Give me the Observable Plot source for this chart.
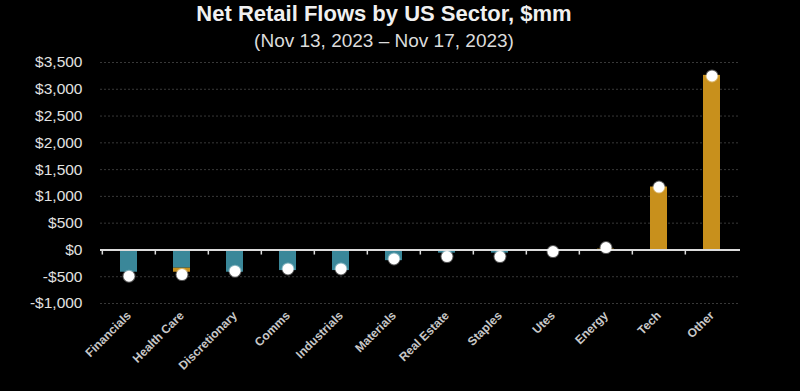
<!DOCTYPE html>
<html>
<head>
<meta charset="utf-8">
<script src="https://cdn.jsdelivr.net/npm/d3@7"></script>
<script src="https://cdn.jsdelivr.net/npm/@observablehq/plot@0.6"></script>
<style>
  html, body { margin: 0; padding: 0; background: #000; }
  #wrap { width: 800px; height: 391px; background: #000; overflow: hidden; }
  #head { width: 768px; height: 40px; text-align: center; color: #eee; position: relative; z-index: 2; }
  #title { font-family: "Liberation Sans", Arial, sans-serif; font-weight: bold; font-size: 22px; line-height: 24px; padding-top: 2px; color: #f0f0f0; }
  #subtitle { font-family: "Liberation Sans", Arial, sans-serif; font-size: 19px; line-height: 22px; margin-top: 4px; color: #dcdcdc; }
  #chart svg { display: block; }
</style>
</head>
<body>
<div id="wrap">
  <div id="head">
    <div id="title">Net Retail Flows by US Sector, $mm</div>
    <div id="subtitle">(Nov 13, 2023 – Nov 17, 2023)</div>
  </div>
  <div id="chart"></div>
</div>
<script>
const sectors = ["Financials", "Health Care", "Discretionary", "Comms", "Industrials", "Materials", "Real Estate", "Staples", "Utes", "Energy", "Tech", "Other"];
const fundValues = [-416, -341, -416, -385, -385, -200, -60, -60, -10, 0, 0, 0];
const stockValues = [0, -75, 0, 0, 0, 0, 0, 0, 0, 15, 1175, 3260];
const netValues = [-490, -460, -397, -354, -354, -168, -124, -124, -30, 45, 1175, 3250];
const yTicks = [-1000, -500, 0, 500, 1000, 1500, 2000, 2500, 3000, 3500];

const rows = [];
sectors.forEach((s, i) => {
  rows.push({sector: s, series: "A", value: fundValues[i]});
  rows.push({sector: s, series: "B", value: stockValues[i]});
});
const nets = sectors.map((s, i) => ({sector: s, value: netValues[i]}));

const W = 800, H = 351, ML = 100, MR = 60;
const step = (W - ML - MR) / sectors.length;
const fmt = d => (d < 0 ? "-" : "") + "$" + d3.format(",")(Math.abs(d));

const chart = Plot.plot({
  width: W,
  height: H,
  marginTop: 22,
  marginBottom: 88,
  marginLeft: ML,
  marginRight: MR,
  style: {background: "transparent", color: "#ddd", fontFamily: "'Liberation Sans', Arial, sans-serif", overflow: "visible"},
  x: {domain: sectors, paddingInner: 0.68, paddingOuter: 0.34, label: null, tickSize: 0, tickRotate: -45, tickPadding: 10},
  y: {domain: [-1000, 3500], ticks: yTicks, tickFormat: fmt, tickSize: 0, tickPadding: 18, label: null},
  color: {type: "ordinal", domain: ["A", "B"], range: ["#3a8799", "#c8901c"]},
  marks: [
    Plot.ruleY(yTicks.filter(d => d !== 0), {stroke: "#383838", strokeDasharray: "2,2", strokeWidth: 1}),
    Plot.barY(rows, Plot.stackY({x: "sector", y: "value", fill: "series", order: ["A", "B"]})),
    Plot.ruleY([0], {stroke: "#dcdcdc", strokeWidth: 2}),
    Plot.ruleX(sectors, {x: d => d, y1: 0, y2: -95, dx: -step / 2, stroke: "#dcdcdc", strokeWidth: 1.5}),
    Plot.dot(nets, {x: "sector", y: "value", r: 5.5, fill: "#fff", stroke: "rgba(255,255,255,0.35)", strokeWidth: 2})
  ]
});
document.getElementById("chart").appendChild(chart);

d3.select(chart).selectAll("g[aria-label='y-axis'] text, g[aria-label='y-axis tick label'] text")
  .style("font-size", "15.5px").style("fill", "#e2e2e2");
d3.select(chart).selectAll("g[aria-label='x-axis'] text, g[aria-label='x-axis tick label'] text")
  .style("font-size", "12px").style("font-weight", "bold").style("fill", "#c8c8c8");
</script>
</body>
</html>
